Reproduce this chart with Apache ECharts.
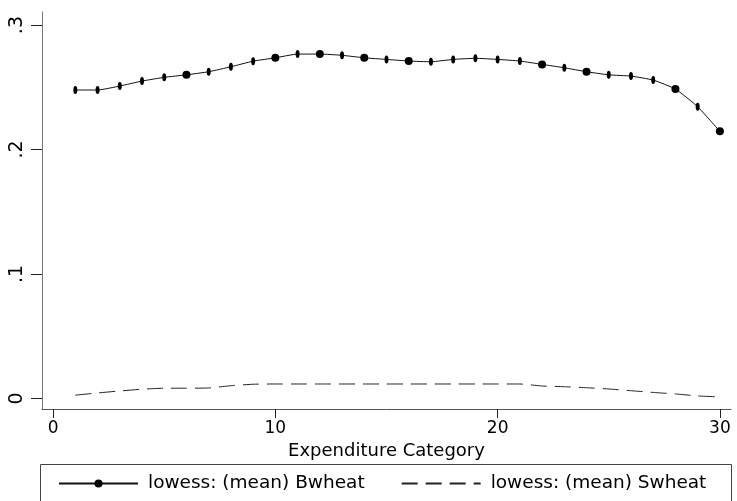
<!DOCTYPE html>
<html>
<head>
<meta charset="utf-8">
<script src="https://cdn.jsdelivr.net/npm/echarts@6/dist/echarts.min.js"></script>
<style>
  html, body { margin: 0; padding: 0; background: #fff; }
  #chart { width: 737px; height: 501px; }
</style>
</head>
<body>
<div id="chart"></div>
<script>
// Expenditure categories 1..30
const categories = [1,2,3,4,5,6,7,8,9,10,11,12,13,14,15,16,17,18,19,20,21,22,23,24,25,26,27,28,29,30];

// lowess-smoothed mean budget shares
const bwheat = [0.2478,0.2478,0.2510,0.2550,0.2580,0.2600,0.2625,0.2665,0.2710,0.2737,
                0.2767,0.2767,0.2757,0.2737,0.2724,0.2711,0.2705,0.2724,0.2733,0.2724,
                0.2711,0.2684,0.2657,0.2625,0.2600,0.2590,0.2558,0.2486,0.2344,0.2146];
const swheat = [0.0026,0.0044,0.0060,0.0074,0.0082,0.0082,0.0084,0.0102,0.0114,0.0116,
                0.0116,0.0116,0.0116,0.0116,0.0116,0.0116,0.0116,0.0116,0.0116,0.0116,
                0.0116,0.0100,0.0094,0.0086,0.0076,0.0062,0.0048,0.0036,0.0020,0.0012];

const xTicks = [0, 10, 20, 30];
const yTicks = [0, 0.1, 0.2, 0.3];
const seriesNames = ['lowess: (mean) Bwheat', 'lowess: (mean) Swheat'];

// marker indices drawn as round dots; the rest are narrow upright dots
const roundMarks = new Set([5, 9, 11, 13, 15, 21, 23, 27, 29]);

const font = 'DejaVu Sans, Liberation Sans, Arial, sans-serif';
const chart = echarts.init(document.getElementById('chart'), null, { renderer: 'canvas' });

const fmtY = v => (v === 0 ? '0' : String(Math.round(v * 10) / 10).replace(/^0/, ''));

chart.setOption({
  animation: false,
  backgroundColor: '#ffffff',
  grid: { left: 42, right: 6, top: 12, bottom: 92, containLabel: false },
  xAxis: {
    type: 'value',
    min: -0.5,
    max: 30.5,
    name: 'Expenditure Category',
    nameLocation: 'middle',
    nameGap: 32,
    nameTextStyle: { color: '#000', fontFamily: font, fontSize: 18 },
    axisLine: { show: true, onZero: false, lineStyle: { color: '#555', width: 1 } },
    axisTick: { show: true, length: 9, customValues: xTicks, lineStyle: { color: '#222' } },
    axisLabel: { customValues: xTicks, color: '#000', fontFamily: font, fontSize: 17, margin: 11 },
    splitLine: { show: false }
  },
  yAxis: {
    type: 'value',
    min: -0.0085,
    max: 0.3105,
    axisLine: { show: true, onZero: false, lineStyle: { color: '#777', width: 1 } },
    axisTick: { show: true, length: 11, customValues: yTicks, lineStyle: { color: '#222' } },
    axisLabel: {
      customValues: yTicks, rotate: 90, color: '#000', fontFamily: font, fontSize: 19,
      margin: 15, formatter: fmtY
    },
    splitLine: { show: false }
  },
  legend: {
    top: 469,
    left: 53,
    itemWidth: 79,
    itemHeight: 10,
    itemGap: 36,
    textStyle: { color: '#000', fontFamily: font, fontSize: 18.5, padding: [0, 0, 0, 5] },
    data: [
      { name: seriesNames[0] },
      { name: seriesNames[1], itemStyle: { color: 'rgba(0,0,0,0)', borderWidth: 0 } }
    ]
  },
  graphic: [{
    type: 'rect',
    shape: { x: 40.5, y: 464.5, width: 691, height: 50 },
    style: { fill: 'none', stroke: '#444', lineWidth: 1 },
    silent: true
  }],
  series: [
    {
      name: seriesNames[0],
      type: 'line',
      data: categories.map((c, i) => [c, bwheat[i]]),
      symbol: 'circle',
      symbolSize: (v, p) => (roundMarks.has(p.dataIndex) ? 8 : [4, 8]),
      showAllSymbol: true,
      smooth: 0.15,
      itemStyle: { color: '#000' },
      lineStyle: { color: '#111', width: 1 }
    },
    {
      name: seriesNames[1],
      type: 'line',
      data: categories.map((c, i) => [c, swheat[i]]),
      symbol: 'none',
      smooth: 0.15,
      itemStyle: { color: '#222' },
      lineStyle: { color: '#222', width: 1, type: [16, 8] }
    }
  ]
});
</script>
</body>
</html>
